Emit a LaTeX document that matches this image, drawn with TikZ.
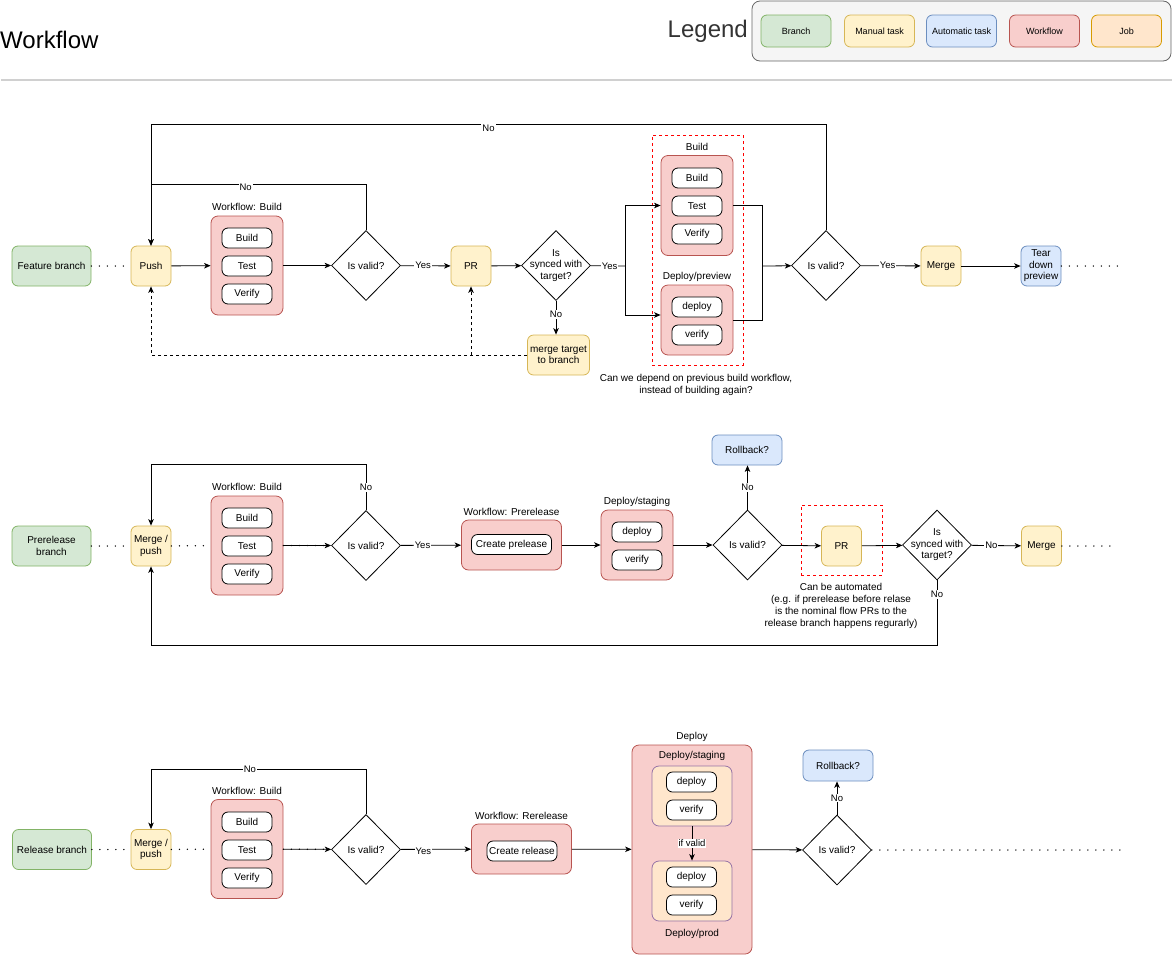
\documentclass[tikz,border=0pt]{standalone}
\usepackage{fontspec}
\setmainfont{Liberation Sans}
\usetikzlibrary{arrows.meta,shapes.geometric}
\definecolor{brfill}{HTML}{D5E8D4}
\definecolor{brline}{HTML}{82B366}
\definecolor{mtfill}{HTML}{FFF2CC}
\definecolor{mtline}{HTML}{D6B656}
\definecolor{atfill}{HTML}{DAE8FC}
\definecolor{atline}{HTML}{6C8EBF}
\definecolor{wffill}{HTML}{F8CECC}
\definecolor{wfline}{HTML}{B85450}
\definecolor{jbfill}{HTML}{FFE6CC}
\definecolor{jbline}{HTML}{D79B00}
\definecolor{jbpurple}{HTML}{9673A6}
\definecolor{lgfill}{HTML}{F5F5F5}
\definecolor{lgline}{HTML}{666666}
\definecolor{sepgray}{HTML}{D0D0D0}
\begin{document}
\begin{tikzpicture}[x=1pt,y=1pt,>={Stealth[length=6.5pt,width=5.5pt,inset=1.8pt]}]
\tikzstyle{every node}+=[inner sep=0pt,font=\fontsize{10}{11.5}\selectfont]
\tikzstyle{taskbox}=[draw,line width=0.8pt,rounded corners=6pt,minimum width=40pt,minimum height=40pt,align=center]
\tikzstyle{branchbox}=[taskbox,draw=brline,fill=brfill,minimum width=79pt]
\tikzstyle{manualbox}=[taskbox,draw=mtline,fill=mtfill]
\tikzstyle{autobox}=[taskbox,draw=atline,fill=atfill]
\tikzstyle{wfbox}=[draw=wfline,fill=wffill,line width=0.8pt,rounded corners=7pt]
\tikzstyle{jobbox}=[draw=jbpurple,fill=jbfill,line width=0.8pt,rounded corners=7pt,minimum width=80pt,minimum height=60pt]
\tikzstyle{stepbox}=[draw=black,fill=white,line width=0.8pt,rounded corners=6pt,minimum width=50pt,minimum height=20pt]
\tikzstyle{decision}=[draw=black,line width=0.8pt,diamond,minimum width=69pt,minimum height=70pt]
\tikzstyle{grouprect}=[draw=red,line width=0.8pt,dash pattern=on 3pt off 3pt]
\tikzstyle{conn}=[black,line width=0.8pt]
\tikzstyle{lbl}=[fill=white,font=\fontsize{9.5}{11}\selectfont,inner sep=1pt]
\tikzstyle{dotline}=[black,line width=1.5pt,dash pattern=on 0pt off 8pt,line cap=round]
\tikzstyle{legitem}=[taskbox,minimum width=70pt,minimum height=32pt,font=\fontsize{9}{10}\selectfont]
\useasboundingbox (0,0) rectangle (1172,-956);
\node[anchor=west,font=\fontsize{24}{28}\selectfont] (title) at (0,-40) {Workflow};
\draw[sepgray,line width=2pt] (1,-79.5) -- (1172,-79.5);
\node[anchor=east,font=\fontsize{24}{28}\selectfont,text=black!80] (legtitle) at (748,-31) {Legend};
\node[draw=lgline,fill=lgfill,line width=0.8pt,rounded corners=8pt,minimum width=419pt,minimum height=60pt] (legend) at (961.5,-31) {};
\node[legitem,draw=brline,fill=brfill] (lgbranch) at (796,-31) {Branch};
\node[legitem,draw=mtline,fill=mtfill] (lgmanual) at (879.5,-31) {Manual task};
\node[legitem,draw=atline,fill=atfill] (lgauto) at (961.5,-31) {Automatic task};
\node[legitem,draw=wfline,fill=wffill] (lgwf) at (1044.5,-31) {Workflow};
\node[legitem,draw=jbline,fill=jbfill] (lgjob) at (1126.5,-31) {Job};
\node[branchbox] (featbr) at (51.5,-266) {Feature branch};
\node[manualbox] (push) at (151,-266) {Push};
\node[wfbox,minimum width=72pt,minimum height=99pt] (wfa) at (247,-265.5) {};
\node (wfalbl) at (247,-207) {Workflow: Build};
\node[stepbox] (wfa1) at (247,-238) {Build};
\node[stepbox] (wfa2) at (247,-266) {Test};
\node[stepbox] (wfa3) at (247,-294) {Verify};
\node[decision] (va) at (366,-265.5) {};
\node (vatxt) at (va) {Is valid?};
\node[manualbox] (pra) at (471,-266) {PR};
\node[decision] (sa) at (556,-265.5) {};
\node[align=center] (satxt) at (sa) {Is\\synced with\\target?};
\node[grouprect,minimum width=91pt,minimum height=230pt] (grpa) at (697.5,-250) {};
\node[wfbox,minimum width=72pt,minimum height=100pt] (bda) at (697,-205.5) {};
\node (bdalbl) at (697,-147) {Build};
\node[stepbox] (bda1) at (697,-178) {Build};
\node[stepbox] (bda2) at (697,-206) {Test};
\node[stepbox] (bda3) at (697,-234) {Verify};
\node[wfbox,minimum width=72pt,minimum height=70pt] (dpa) at (697,-320) {};
\node (dpalbl) at (697,-277) {Deploy/preview};
\node[stepbox] (dpa1) at (697,-307) {deploy};
\node[stepbox] (dpa2) at (697,-335) {verify};
\node[align=center] (notea) at (696,-385) {Can we depend on previous build workflow,\\instead of building again?};
\node[decision] (vb) at (826,-265.5) {};
\node (vbtxt) at (vb) {Is valid?};
\node[manualbox] (mga) at (941,-266) {Merge};
\node[autobox] (tda) at (1041,-266) {Tear\\down\\preview};
\node[manualbox,minimum width=62pt] (mta) at (558.5,-355) {merge target\\to branch};
\coordinate (forka) at (625,-266);
\coordinate (joina) at (762,-266);
\coordinate (enda) at (1120,-266);
\draw[dotline] (featbr) -- (push);
\draw[conn,->] (push) -- (wfa);
\draw[conn,->] (wfa) -- (va);
\draw[conn,->] (va.north) -- ++(0,46) -| node[lbl,pos=0.28,yshift=-3pt] {No} (push.north);
\draw[conn,->] (vb.north) -- ++(0,105.5) -| node[lbl,pos=0.25,yshift=-4pt] {No} (push.north);
\draw[conn,->] (va) -- node[lbl,pos=0.45] {Yes} (pra);
\draw[conn,->] (pra) -- (sa);
\draw[conn] (sa) -- node[lbl,pos=0.55] {Yes} (forka);
\draw[conn,->] (forka) |- (bda.west);
\draw[conn,->] (forka) |- ([yshift=5pt]dpa.west);
\draw[conn] (bda.east) -| (joina);
\draw[conn] (dpa.east) -| (joina);
\draw[conn,->] (joina) -- (vb);
\draw[conn,->] (vb) -- node[lbl,pos=0.45] {Yes} (mga);
\draw[conn,->] (mga) -- (tda);
\draw[dotline] (tda) -- (enda);
\draw[conn,->] (sa.south) -- node[lbl,pos=0.4] {No} (sa.south |- mta.north);
\draw[conn,->,dash pattern=on 3pt off 3pt] (mta.west) -| (push.south);
\draw[conn,->,dash pattern=on 3pt off 3pt] (pra.south |- mta.west) -- (pra.south);
\node[branchbox] (prebr) at (51.5,-546) {Prerelease\\branch};
\node[manualbox] (mpb) at (151,-546) {Merge /\\push};
\node[wfbox,minimum width=72pt,minimum height=99pt] (wfb) at (247,-545.5) {};
\node (wfblbl) at (247,-487) {Workflow: Build};
\node[stepbox] (wfb1) at (247,-518) {Build};
\node[stepbox] (wfb2) at (247,-546) {Test};
\node[stepbox] (wfb3) at (247,-574) {Verify};
\node[decision] (vc) at (366,-545.5) {};
\node (vctxt) at (vc) {Is valid?};
\node[wfbox,minimum width=100pt,minimum height=50pt] (preb) at (511.5,-545) {};
\node (preblbl) at (511.5,-512) {Workflow: Prerelease};
\node[stepbox,minimum width=80pt] (preb1) at (511.5,-544.5) {Create prelease};
\node[wfbox,minimum width=72pt,minimum height=70pt] (stgb) at (637,-545) {};
\node (stgblbl) at (637,-502) {Deploy/staging};
\node[stepbox] (stgb1) at (637,-532) {deploy};
\node[stepbox] (stgb2) at (637,-560) {verify};
\node[decision] (vd) at (747.5,-545) {};
\node (vdtxt) at (vd) {Is valid?};
\node[autobox,minimum width=70pt,minimum height=30pt] (rollb) at (747,-450) {Rollback?};
\node[grouprect,minimum width=81pt,minimum height=70pt] (grpb) at (841.5,-540) {};
\node[manualbox] (prb) at (841.5,-546) {PR};
\node[align=center,font=\fontsize{10}{12}\selectfont] (noteb) at (841,-606) {Can be automated\\(e.g. if prerelease before relase\\is the nominal flow PRs to the\\release branch happens regurarly)};
\node[decision] (se) at (937,-545) {};
\node[align=center] (setxt) at (se) {Is\\synced with\\target?};
\node[manualbox] (mgb) at (1041.5,-546) {Merge};
\coordinate (endb) at (1113,-546);
\draw[dotline] (prebr) -- (mpb);
\draw[dotline] (mpb) -- (wfb);
\draw[dotline] (wfb) -- (vc);
\draw[conn,->] (wfb) -- (vc);
\draw[conn,->] (vc.north) -- node[lbl] {No} ++(0,45.5) -| (mpb.north);
\draw[conn,->] (vc) -- node[lbl,pos=0.36] {Yes} (preb);
\draw[conn,->] (preb) -- (stgb);
\draw[conn,->] (stgb) -- (vd);
\draw[conn,->] (vd.north) -- node[lbl] {No} (vd.north |- rollb.south);
\draw[conn,->] (vd) -- (prb);
\draw[conn,->] (prb) -- (se);
\draw[conn,->] (se) -- node[lbl,pos=0.4] {No} (mgb);
\draw[dotline] (mgb) -- (endb);
\draw[conn,->] (se.south) -- node[lbl,pos=0.22] {No} ++(0,-65) -| (mpb.south);
\node[branchbox] (relbr) at (52,-849.5) {Release branch};
\node[manualbox] (mpc) at (151,-849.5) {Merge /\\push};
\node[wfbox,minimum width=72pt,minimum height=99pt] (wfc) at (247,-849) {};
\node (wfclbl) at (247,-791) {Workflow: Build};
\node[stepbox] (wfc1) at (247,-822) {Build};
\node[stepbox] (wfc2) at (247,-850) {Test};
\node[stepbox] (wfc3) at (247,-878) {Verify};
\node[decision] (vf) at (366,-849.5) {};
\node (vftxt) at (vf) {Is valid?};
\node[wfbox,minimum width=100pt,minimum height=50pt] (relc) at (521.5,-849) {};
\node (relclbl) at (521.5,-816) {Workflow: Rerelease};
\node[stepbox,minimum width=70pt] (relc1) at (522,-851) {Create release};
\node[wfbox,minimum width=120pt,minimum height=209pt] (dpc) at (692,-849.5) {};
\node (dpclbl) at (692,-737) {Deploy};
\node (stgclbl) at (692,-756) {Deploy/staging};
\node[jobbox] (stgc) at (692,-796) {};
\node[stepbox] (stgc1) at (691.5,-782) {deploy};
\node[stepbox] (stgc2) at (691.5,-810) {verify};
\node[jobbox] (prdc) at (692,-891) {};
\node[stepbox] (prdc1) at (691.5,-877) {deploy};
\node[stepbox] (prdc2) at (691.5,-905) {verify};
\node (prdclbl) at (692,-934) {Deploy/prod};
\node[decision] (vg) at (837,-850) {};
\node (vgtxt) at (vg) {Is valid?};
\node[autobox,minimum width=70pt,minimum height=31pt] (rollc) at (838,-765.5) {Rollback?};
\coordinate (endc) at (1122,-850);
\draw[dotline] (relbr) -- (mpc);
\draw[dotline] (mpc) -- (wfc);
\draw[dotline] (wfc) -- (vf);
\draw[conn,->] (wfc) -- (vf);
\draw[conn,->] (vf.north) -- ++(0,44.5) -| node[lbl,pos=0.27] {No} (mpc.north);
\draw[conn,->] (vf) -- node[lbl,pos=0.32,yshift=-2pt] {Yes} (relc);
\draw[conn,->] (relc) -- (dpc);
\draw[conn,->] (stgc) -- node[lbl] {if valid} (prdc);
\draw[conn,->] (dpc) -- (vg);
\draw[conn,->] (vg.north) -- node[lbl] {No} (vg.north |- rollc.south);
\draw[dotline] (vg) -- (endc);
\end{tikzpicture}
\end{document}
